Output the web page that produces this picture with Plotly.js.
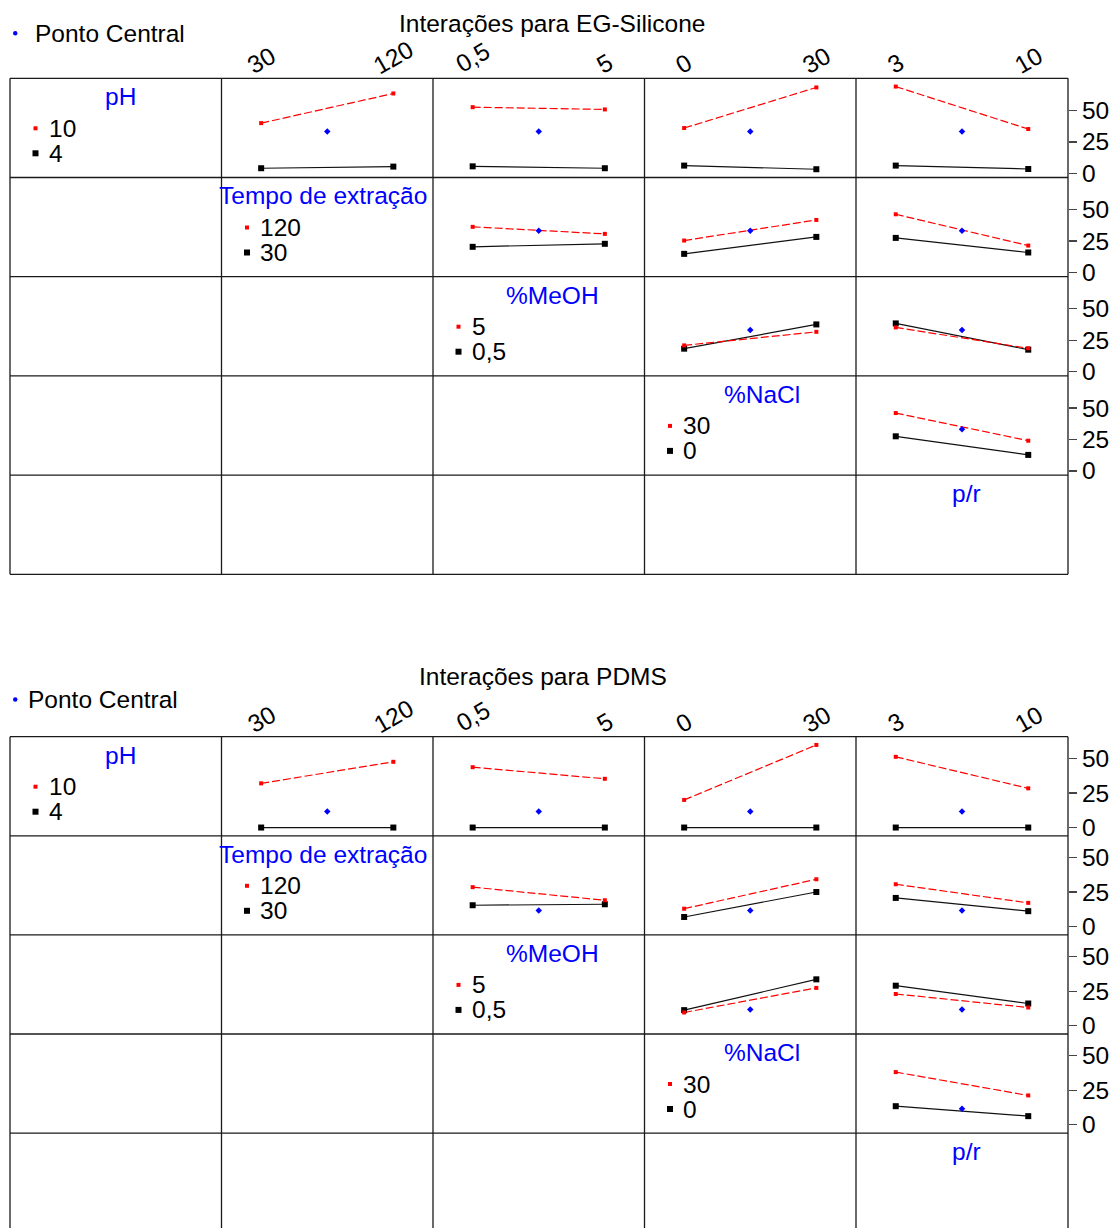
<!DOCTYPE html>
<html><head><meta charset="utf-8">
<script src="https://cdn.plot.ly/plotly-3.0.1.min.js"></script>
<style>html,body{margin:0;padding:0;background:#fff;overflow:hidden}</style>
</head><body><div id="chart" style="width:1113px;height:1228px"></div>
<script>
// ---------- data ----------
const factorNames = ["pH", "Tempo de extração", "%MeOH", "%NaCl", "p/r"];
const factorLow = [4, 30, 0.5, 0, 3];
const factorHigh = [10, 120, 5, 30, 10];
const lowLabels = ["4", "30", "0,5", "0", "3"];
const highLabels = ["10", "120", "5", "30", "10"];
// interaction pairs: row factor (legend) x column factor (x axis)
const pairRows = [0, 0, 0, 0, 1, 1, 1, 2, 2, 3];
const pairCols = [1, 2, 3, 4, 2, 3, 4, 3, 4, 4];
const centerLabel = "Ponto Central";

const egTitle = "Interações para EG-Silicone";
// means at (column low, column high) for row factor at low level (black) and high level (red)
const egLowSeries = [[4.0, 5.3], [5.5, 4.0], [6.1, 3.2], [6.1, 3.4], [20.4, 22.8], [14.8, 28.3], [27.5, 15.9], [18.3, 37.6], [38.4, 17.5], [27.5, 12.7]];
const egHighSeries = [[39.9, 63.5], [52.6, 50.8], [36.0, 68.3], [69.0, 35.2], [36.3, 30.7], [25.4, 41.8], [46.3, 21.4], [20.9, 31.7], [35.2, 18.6], [46.0, 24.0]];
const egCenter = 33.2;

const pdmsTitle = "Interações para PDMS";
const pdmsLowSeries = [[0, 0], [0, 0], [0, 0], [0, 0], [15.5, 16.2], [7.0, 25.1], [20.8, 11.2], [11.3, 33.6], [29.0, 16.1], [13.5, 6.3]];
const pdmsHighSeries = [[32.0, 47.6], [43.7, 35.3], [20.0, 59.8], [51.2, 28.4], [28.6, 19.1], [13.0, 34.3], [30.7, 17.2], [9.6, 27.4], [23.0, 13.2], [38.2, 21.3]];
const pdmsCenter = 11.7;

const yTicks = [0, 25, 50];

// ---------- layout geometry ----------
const W = 1113, H = 1228;
const colEdges = [10, 221.5, 433, 644.5, 856, 1068];
const nameCenters = [120, 323, 552, 762, 966];
const charts = [
  {title: egTitle, lows: egLowSeries, highs: egHighSeries, center: egCenter,
   top: 78.3, rowH: 99.2, titleX: 551.5, titleY: 23, pcY: 33.3, pcTextX: 33},
  {title: pdmsTitle, lows: pdmsLowSeries, highs: pdmsHighSeries, center: pdmsCenter,
   top: 736.7, rowH: 99.1, titleX: 543, titleY: 676, pcY: 699.5, pcTextX: 26}
];
const px = x => x / W;
const py = y => 1 - y / H;
const FONT = "Liberation Sans, Arial, Helvetica, sans-serif";
const FS = 24.5;

const traces = [];
const layout = {
  width: W, height: H, margin: {l: 0, r: 0, t: 0, b: 0},
  paper_bgcolor: "#fff", plot_bgcolor: "rgba(0,0,0,0)",
  showlegend: false, font: {family: FONT, size: FS, color: "#000"},
  annotations: [], shapes: []
};

charts.forEach((ch, c) => {
  const all = ch.lows.flat().concat(ch.highs.flat(), [ch.center]);
  const mn = Math.min(...all), mx = Math.max(...all);
  const pad = 0.1 * (mx - mn);
  const yr = [mn - pad, mx + pad];

  pairRows.forEach((r, k) => {
    const col = pairCols[k];
    const n = c * 10 + k + 1;
    const xa = "x" + (n === 1 ? "" : n), ya = "y" + (n === 1 ? "" : n);
    const lo = factorLow[col], hi = factorHigh[col], d = hi - lo;
    const xv = [lo, hi];
    traces.push({x: xv, y: ch.lows[k], xaxis: xa, yaxis: ya, mode: "lines+markers",
      line: {color: "#111", width: 1.2}, marker: {symbol: "square", size: 6, color: "#000"},
      cliponaxis: false, hoverinfo: "skip"});
    traces.push({x: xv, y: ch.highs[k], xaxis: xa, yaxis: ya, mode: "lines+markers",
      line: {color: "#ff0000", width: 1.2, dash: "8px,3px"}, marker: {symbol: "square", size: 4, color: "#ff0000"},
      cliponaxis: false, hoverinfo: "skip"});
    traces.push({x: [(lo + hi) / 2], y: [ch.center], xaxis: xa, yaxis: ya, mode: "markers",
      marker: {symbol: "diamond", size: 5, color: "#0000ff"}, cliponaxis: false, hoverinfo: "skip"});

    const xKey = "xaxis" + (n === 1 ? "" : n), yKey = "yaxis" + (n === 1 ? "" : n);
    layout[xKey] = {domain: [px(colEdges[col]), px(colEdges[col + 1])], range: [lo - 0.3 * d, hi + 0.3 * d],
      visible: false, anchor: ya, fixedrange: true};
    const right = col === 4;
    layout[yKey] = {domain: [py(ch.top + (r + 1) * ch.rowH), py(ch.top + r * ch.rowH)], range: yr,
      anchor: xa, side: "right", showgrid: false, zeroline: false, showline: false,
      ticks: right ? "outside" : "", ticklen: 8, tickwidth: 1.3, tickcolor: "#444",
      showticklabels: right, tickvals: yTicks, ticktext: yTicks.map(String),
      tickfont: {family: FONT, size: FS, color: "#000"}, fixedrange: true};

    if (r === 0) {
      [lo, hi].forEach((v, j) => {
        const lab = j === 0 ? lowLabels[col] : highLabels[col];
        const off = 14.5 + 3 * (lab.length - 1);
        layout.annotations.push({xref: xa, yref: "paper", x: v, y: py(ch.top - off),
          text: lab, showarrow: false, textangle: -30,
          xanchor: "center", yanchor: "middle", font: {family: FONT, size: FS, color: "#000"}});
      });
    }
  });

  // titles
  layout.annotations.push({xref: "paper", yref: "paper", x: px(ch.titleX), y: py(ch.titleY), text: ch.title,
    showarrow: false, xanchor: "center", yanchor: "middle", font: {family: FONT, size: FS, color: "#000"}});
  layout.annotations.push({xref: "paper", yref: "paper", x: px(ch.pcTextX), y: py(ch.pcY), text: centerLabel,
    showarrow: false, xanchor: "left", yanchor: "middle", font: {family: FONT, size: FS, color: "#000"}});
  layout.shapes.push({type: "circle", xref: "paper", yref: "paper", x0: px(13), x1: px(17.5),
    y0: py(ch.pcY + 2.2), y1: py(ch.pcY - 2.2), fillcolor: "#0000ff", line: {width: 0}});

  // diagonal cells: factor names + legend entries
  factorNames.forEach((name, i) => {
    const cellTop = ch.top + i * ch.rowH;
    layout.annotations.push({xref: "paper", yref: "paper", x: px(nameCenters[i]), y: py(cellTop + 18.5), text: name,
      showarrow: false, xanchor: "center", yanchor: "middle", font: {family: FONT, size: FS, color: "#0000ff"}});
    if (i < 4) {
      const entries = [[highLabels[i], "#ff0000", 2, 50], [lowLabels[i], "#000", 3, 75]];
      entries.forEach(([lab, colr, hs, dy]) => {
        const yy = cellTop + dy;
        const mx0 = colEdges[i] + 25.5;
        layout.shapes.push({type: "rect", xref: "paper", yref: "paper", x0: px(mx0 - hs), x1: px(mx0 + hs),
          y0: py(yy + hs), y1: py(yy - hs), fillcolor: colr, line: {width: 0}});
        layout.annotations.push({xref: "paper", yref: "paper", x: px(colEdges[i] + 36.5), y: py(yy), text: lab,
          showarrow: false, xanchor: "left", yanchor: "middle", font: {family: FONT, size: FS, color: "#000"}});
      });
    }
  });

  // grid lines
  const bottom = Math.min(ch.top + 5 * ch.rowH, H);
  colEdges.forEach(x => layout.shapes.push({type: "line", xref: "paper", yref: "paper",
    x0: px(x), x1: px(x), y0: py(ch.top), y1: py(bottom), line: {color: "#1a1a1a", width: 1.3}}));
  for (let r = 0; r <= 5; r++) {
    const y = ch.top + r * ch.rowH;
    if (y > H - 1) continue;
    layout.shapes.push({type: "line", xref: "paper", yref: "paper", x0: px(colEdges[0]), x1: px(colEdges[5]),
      y0: py(y), y1: py(y), line: {color: "#1a1a1a", width: 1.3}});
  }
});

Plotly.newPlot("chart", traces, layout, {staticPlot: true, displayModeBar: false});
</script>
</body></html>
